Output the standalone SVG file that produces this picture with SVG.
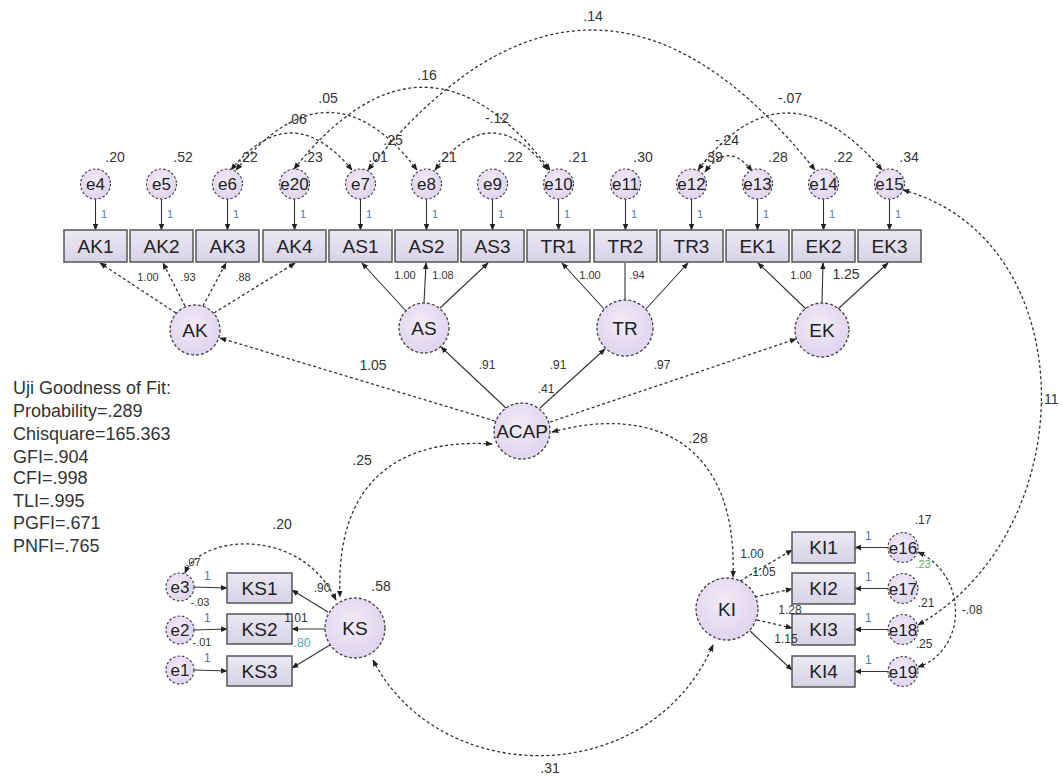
<svg xmlns="http://www.w3.org/2000/svg" width="1062" height="780" viewBox="0 0 1062 780">
<defs>
<radialGradient id="cg" cx="0.45" cy="0.4" r="0.7"><stop offset="0" stop-color="#f1ecf7"/><stop offset="1" stop-color="#dcd0ec"/></radialGradient>
<linearGradient id="rg" x1="0" y1="0" x2="0" y2="1"><stop offset="0" stop-color="#ebe8f3"/><stop offset="1" stop-color="#d8d2e6"/></linearGradient>
<marker id="ah" viewBox="0 0 10 10" refX="9" refY="5" markerWidth="7" markerHeight="7" orient="auto-start-reverse" markerUnits="userSpaceOnUse"><path d="M0,1 L10,5 L0,9 z" fill="#222"/></marker>
<style>
.lat{fill:url(#cg);stroke:#444;stroke-width:1.3;stroke-dasharray:3 2}
.err{fill:url(#cg);stroke:#444;stroke-width:1.2;stroke-dasharray:2.5 2}
.box{fill:url(#rg);stroke:#555;stroke-width:1.5}
text{font-family:"Liberation Sans",Arial,sans-serif;fill:#222}
.t19{font-size:19px;text-anchor:middle}
.t17{font-size:17px;text-anchor:middle}
.n14{font-size:14px;text-anchor:middle;fill:#333}
.n12{font-size:12px;text-anchor:middle;fill:#333}
.n11{font-size:11px;text-anchor:middle;fill:#333}
.one{font-size:11px;fill:#5577aa}
.d{fill:none;stroke:#333;stroke-width:1.3;stroke-dasharray:3 2.5}
.s{fill:none;stroke:#333;stroke-width:1.1}
.fit{font-size:18px;fill:#333}
</style>
</defs>
<rect width="1062" height="780" fill="#fff"/>

<g id="connectors">
<g class="s" marker-end="url(#ah)">
<path d="M95.5,199 V230"/><path d="M161.5,199 V230"/><path d="M227.5,199 V230"/><path d="M294.5,199 V230"/><path d="M360.5,199 V230"/><path d="M426.5,199 V230"/><path d="M492.5,199 V230"/><path d="M558.5,199 V230"/><path d="M625.5,199 V230"/><path d="M691.5,199 V230"/><path d="M757.5,199 V230"/><path d="M823.5,199 V230"/><path d="M889.5,199 V230"/>
</g>
<g marker-end="url(#ah)">
<path class="d" d="M176,313 L100,263"/><path class="d" d="M185,306 L163,263"/><path class="d" d="M203,306 L226,263"/><path class="d" d="M214,313 L295,263"/>
<path class="s" d="M406,311 L362,263"/><path class="s" d="M424,303 L426,263"/><path class="s" d="M440,308 L488,263"/>
<path class="s" d="M605,310 L562,263"/><path class="s" d="M645,310 L688,263"/>
<path class="s" d="M806,309 L758,263"/><path class="s" d="M822,303 L823,263"/><path class="s" d="M838,309 L888,263"/>
</g>
<path class="s" d="M625,300 V263" stroke-width="1.6"/>
<g marker-end="url(#ah)">
<path class="d" d="M495,421 L220,338"/>
<path class="s" d="M506,408 L441,347"/>
<path class="s" d="M540,408 L605,349"/>
<path class="d" d="M550,422 L796,339"/>
</g>
<g class="d" marker-start="url(#ah)" marker-end="url(#ah)">
<path d="M231,170 Q291,96 352,170"/>
<path d="M236,170 Q330,55 417,170"/>
<path d="M294,169 Q425,5 550,170"/>
<path d="M435,170 Q492,96 548,170"/>
<path d="M368,170 Q592,-110 815,170"/>
<path d="M698,170 Q785,56 882,170"/>
<path d="M705,172 Q728,140 752,171"/>
<path d="M903,190 C1085,240 1085,530 918,625"/>
<path d="M918,552 C968,575 968,650 918,667"/>
<path d="M492,444 C400,438 335,480 340,597"/>
<path d="M552,432 C650,405 738,440 733,577"/>
<path d="M373,660 C440,790 650,790 713,645"/>
<path d="M185,573 C200,535 300,525 336,600"/>
</g>
<g class="s" marker-end="url(#ah)">
<path d="M194,587 L227,588"/><path d="M194,630 L227,629"/><path d="M194,670 L227,671"/>
<path d="M328,612 L292,590"/><path d="M325,629 L292,629"/><path d="M330,645 L292,668"/>
</g>
<g class="s" marker-end="url(#ah)">
<path d="M888,547.5 L855,547.5"/><path d="M888,588.5 L855,588.5"/><path d="M888,629.5 L855,629.5"/><path d="M888,671.5 L855,671.5"/>
</g>
<g marker-end="url(#ah)">
<path class="d" d="M740,581 L792,550"/><path class="d" d="M755,597 L792,589"/><path class="d" d="M757,620 L792,628"/><path class="s" d="M750,631 L792,670"/>
</g>
</g>

<g id="e4"><circle class="err" cx="95.5" cy="184" r="15"/><text class="t17" x="95.5" y="190">e4</text></g>
<g id="e5"><circle class="err" cx="161.5" cy="184" r="15"/><text class="t17" x="161.5" y="190">e5</text></g>
<g id="e6"><circle class="err" cx="227.5" cy="184" r="15"/><text class="t17" x="227.5" y="190">e6</text></g>
<g id="e20"><circle class="err" cx="294.5" cy="184" r="15"/><text class="t17" x="294.5" y="190">e20</text></g>
<g id="e7"><circle class="err" cx="360.5" cy="184" r="15"/><text class="t17" x="360.5" y="190">e7</text></g>
<g id="e8"><circle class="err" cx="426.5" cy="184" r="15"/><text class="t17" x="426.5" y="190">e8</text></g>
<g id="e9"><circle class="err" cx="492.5" cy="184" r="15"/><text class="t17" x="492.5" y="190">e9</text></g>
<g id="e10"><circle class="err" cx="558.5" cy="184" r="15"/><text class="t17" x="558.5" y="190">e10</text></g>
<g id="e11"><circle class="err" cx="625.5" cy="184" r="15"/><text class="t17" x="625.5" y="190">e11</text></g>
<g id="e12"><circle class="err" cx="691.5" cy="184" r="15"/><text class="t17" x="691.5" y="190">e12</text></g>
<g id="e13"><circle class="err" cx="757.5" cy="184" r="15"/><text class="t17" x="757.5" y="190">e13</text></g>
<g id="e14"><circle class="err" cx="823.5" cy="184" r="15"/><text class="t17" x="823.5" y="190">e14</text></g>
<g id="e15"><circle class="err" cx="889.5" cy="184" r="15"/><text class="t17" x="889.5" y="190">e15</text></g>

<g id="AK1"><rect class="box" x="64" y="230" width="63" height="32"/><text class="t19" x="95.5" y="253">AK1</text></g>
<g id="AK2"><rect class="box" x="130" y="230" width="63" height="32"/><text class="t19" x="161.5" y="253">AK2</text></g>
<g id="AK3"><rect class="box" x="196" y="230" width="63" height="32"/><text class="t19" x="227.5" y="253">AK3</text></g>
<g id="AK4"><rect class="box" x="263" y="230" width="63" height="32"/><text class="t19" x="294.5" y="253">AK4</text></g>
<g id="AS1"><rect class="box" x="329" y="230" width="63" height="32"/><text class="t19" x="360.5" y="253">AS1</text></g>
<g id="AS2"><rect class="box" x="395" y="230" width="63" height="32"/><text class="t19" x="426.5" y="253">AS2</text></g>
<g id="AS3"><rect class="box" x="461" y="230" width="63" height="32"/><text class="t19" x="492.5" y="253">AS3</text></g>
<g id="TR1"><rect class="box" x="527" y="230" width="63" height="32"/><text class="t19" x="558.5" y="253">TR1</text></g>
<g id="TR2"><rect class="box" x="594" y="230" width="63" height="32"/><text class="t19" x="625.5" y="253">TR2</text></g>
<g id="TR3"><rect class="box" x="660" y="230" width="63" height="32"/><text class="t19" x="691.5" y="253">TR3</text></g>
<g id="EK1"><rect class="box" x="726" y="230" width="63" height="32"/><text class="t19" x="757.5" y="253">EK1</text></g>
<g id="EK2"><rect class="box" x="792" y="230" width="63" height="32"/><text class="t19" x="823.5" y="253">EK2</text></g>
<g id="EK3"><rect class="box" x="858" y="230" width="63" height="32"/><text class="t19" x="889.5" y="253">EK3</text></g>

<g id="AK"><circle class="lat" cx="195" cy="330" r="25"/><text class="t19" x="195" y="337">AK</text></g>
<g id="AS"><circle class="lat" cx="424" cy="328" r="25"/><text class="t19" x="424" y="335">AS</text></g>
<g id="TR"><circle class="lat" cx="625" cy="328" r="28"/><text class="t19" x="625" y="335">TR</text></g>
<g id="EK"><circle class="lat" cx="822" cy="330" r="27"/><text class="t19" x="822" y="337">EK</text></g>
<g id="ACAP"><circle class="lat" cx="522" cy="431" r="28"/><text class="t19" x="522" y="438">ACAP</text></g>
<g id="KS"><circle class="lat" cx="355" cy="628" r="30"/><text class="t19" x="355" y="635">KS</text></g>
<g id="KI"><circle class="lat" cx="727" cy="609" r="31"/><text class="t19" x="727" y="616">KI</text></g>

<g id="KS1"><rect class="box" x="227" y="573" width="65" height="30"/><text class="t19" x="259.5" y="595">KS1</text></g>
<g id="KS2"><rect class="box" x="227" y="614" width="65" height="30"/><text class="t19" x="259.5" y="636">KS2</text></g>
<g id="KS3"><rect class="box" x="227" y="656" width="65" height="30"/><text class="t19" x="259.5" y="678">KS3</text></g>
<g id="e3"><circle class="err" cx="180" cy="587" r="14"/><text class="t17" x="180" y="593">e3</text></g>
<g id="e2"><circle class="err" cx="180" cy="630" r="14"/><text class="t17" x="180" y="636">e2</text></g>
<g id="e1"><circle class="err" cx="180" cy="670" r="14"/><text class="t17" x="180" y="676">e1</text></g>

<g id="KI1"><rect class="box" x="792" y="532" width="63" height="31"/><text class="t19" x="823.5" y="554">KI1</text></g>
<g id="KI2"><rect class="box" x="792" y="573" width="63" height="31"/><text class="t19" x="823.5" y="595">KI2</text></g>
<g id="KI3"><rect class="box" x="792" y="614" width="63" height="31"/><text class="t19" x="823.5" y="636">KI3</text></g>
<g id="KI4"><rect class="box" x="792" y="656" width="63" height="31"/><text class="t19" x="823.5" y="678">KI4</text></g>
<g id="e16"><circle class="err" cx="903" cy="547.5" r="15"/><text class="t17" x="903" y="553.5">e16</text></g>
<g id="e17"><circle class="err" cx="903" cy="588.5" r="15"/><text class="t17" x="903" y="594.5">e17</text></g>
<g id="e18"><circle class="err" cx="903" cy="629.5" r="15"/><text class="t17" x="903" y="635.5">e18</text></g>
<g id="e19"><circle class="err" cx="903" cy="671.5" r="15"/><text class="t17" x="903" y="677.5">e19</text></g>

<g id="labels">
<text class="n14" x="115" y="162">.20</text><text class="n14" x="183" y="162">.52</text><text class="n14" x="248" y="162">.22</text><text class="n14" x="313" y="162">.23</text><text class="n14" x="378" y="162">.01</text><text class="n14" x="447" y="162">.21</text><text class="n14" x="513" y="162">.22</text><text class="n14" x="578" y="162">.21</text><text class="n14" x="643" y="162">.30</text><text class="n14" x="713" y="162">.39</text><text class="n14" x="778" y="162">.28</text><text class="n14" x="843" y="162">.22</text><text class="n14" x="909" y="162">.34</text>
<text class="n14" x="297" y="124">.06</text><text class="n14" x="328" y="103">.05</text><text class="n14" x="427" y="80">.16</text><text class="n14" x="497" y="123">-.12</text><text class="n14" x="593" y="21">.14</text><text class="n14" x="790" y="103">-.07</text><text class="n14" x="727" y="145">-.24</text><text class="n14" x="393" y="145">.25</text>
<text class="one" x="101" y="218">1</text><text class="one" x="167" y="218" fill="#d9a04a">1</text><text class="one" x="233" y="218" fill="#333">1</text><text class="one" x="300" y="218">1</text><text class="one" x="366" y="218">1</text><text class="one" x="432" y="218" fill="#d9a04a">1</text><text class="one" x="498" y="218">1</text><text class="one" x="564" y="218" fill="#333">1</text><text class="one" x="631" y="218">1</text><text class="one" x="697" y="218" fill="#333">1</text><text class="one" x="763" y="218" fill="#d9a04a">1</text><text class="one" x="829" y="218" fill="#333">1</text><text class="one" x="895" y="218">1</text>
<text class="n11" x="148" y="281">1.00</text><text class="n11" x="188" y="281">.93</text><text class="n11" x="243" y="281">.88</text>
<text class="n11" x="405" y="279">1.00</text><text class="n11" x="443" y="279">1.08</text>
<text class="n11" x="590" y="279">1.00</text><text class="n11" x="637" y="279">.94</text>
<text class="n11" x="801" y="279">1.00</text><text class="n14" x="846" y="279">1.25</text>
<text class="n14" x="373" y="370">1.05</text><text class="n12" x="487" y="369">.91</text><text class="n12" x="558" y="369">.91</text><text class="n12" x="546" y="393">.41</text><text class="n12" x="662" y="369">.97</text>
<text class="n14" x="362" y="465">.25</text><text class="n14" x="698" y="443">.28</text><text class="n14" x="550" y="773">.31</text>
<text class="n14" x="282" y="529">.20</text><text class="n11" x="193" y="566">.07</text><text class="n11" x="200" y="606">-.03</text><text class="n11" x="202" y="646">-.01</text>
<text class="one" x="204" y="580" fill="#333" style="font-size:12px">1</text><text class="one" x="204" y="622" fill="#333" style="font-size:12px">1</text><text class="one" x="204" y="662" fill="#333" style="font-size:12px">1</text>
<text class="n12" x="322" y="592">.90</text><text class="n12" x="296" y="622">1.01</text><text class="n12" x="302" y="647" style="fill:#4aa8b8">.80</text><text class="n14" x="381" y="591">.58</text>
<text class="n12" x="752" y="558">1.00</text><text class="n12" x="764" y="576">1.05</text><text class="n12" x="790" y="614">1.28</text><text class="n12" x="786" y="643">1.15</text>
<text class="one" x="865" y="540" fill="#333" style="font-size:12px">1</text><text class="one" x="865" y="581" fill="#333" style="font-size:12px">1</text><text class="one" x="865" y="622" fill="#333" style="font-size:12px">1</text><text class="one" x="865" y="664" fill="#333" style="font-size:12px">1</text>
<text class="n12" x="923" y="524">.17</text><text class="n11" x="923" y="568" style="fill:#6aa86a">.23</text><text class="n12" x="926" y="607">.21</text><text class="n12" x="924" y="648">.25</text><text class="n12" x="972" y="614">-.08</text>
<text class="n14" x="1040" y="404" style="text-anchor:start">.11</text>
</g>

<g id="fit">
<text class="fit" x="13" y="394">Uji Goodness of Fit:</text>
<text class="fit" x="13" y="417">Probability=.289</text>
<text class="fit" x="13" y="440">Chisquare=165.363</text>
<text class="fit" x="13" y="463">GFI=.904</text>
<text class="fit" x="13" y="484">CFI=.998</text>
<text class="fit" x="13" y="507">TLI=.995</text>
<text class="fit" x="13" y="529">PGFI=.671</text>
<text class="fit" x="13" y="552">PNFI=.765</text>
</g>
</svg>
